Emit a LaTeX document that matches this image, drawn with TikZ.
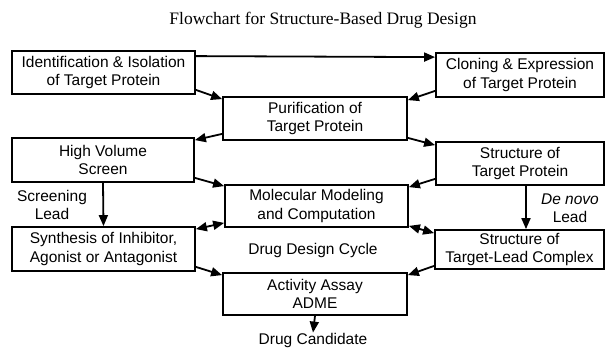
\documentclass[tikz,border=0pt]{standalone}
\usepackage{fontspec}
\setmainfont{Liberation Sans}
\newfontfamily\titlefont{Liberation Serif}
\usetikzlibrary{arrows.meta}
\begin{document}
\begin{tikzpicture}[x=1pt,y=-1pt,
  box/.style={draw, line width=1.8pt, align=center, inner sep=0pt,
    font=\fontsize{15.5}{18.5}\selectfont},
  lbl/.style={align=center, inner sep=0pt, font=\fontsize{15.5}{17.5}\selectfont},
  arr/.style={line width=1.8pt, -{Triangle[length=11pt,width=9pt]}},
  darr/.style={line width=1.8pt, {Triangle[length=11pt,width=9pt]}-{Triangle[length=11pt,width=9pt]}}]
\useasboundingbox (0,0) rectangle (614,349);
\node[inner sep=0pt, font=\titlefont\fontsize{17.5}{20}\selectfont] (title) at (323,20) {Flowchart for Structure-Based Drug Design};

\node[box, minimum width=183pt, minimum height=43pt] (id) at (103.5,72.5) {Identification \& Isolation\\of Target Protein};
\node[box, minimum width=168pt, minimum height=44pt] (cl) at (520,75) {Cloning \& Expression\\of Target Protein};
\node[box, minimum width=184pt, minimum height=43pt] (pur) at (315,118.5) {Purification of\\Target Protein};
\node[box, minimum width=182pt, minimum height=44pt] (hvs) at (103,160) {High Volume\\Screen};
\node[box, minimum width=168pt, minimum height=43pt] (stp) at (520,163.5) {Structure of\\Target Protein};
\node[box, minimum width=183pt, minimum height=42pt] (mmc) at (316.5,206) {Molecular Modeling\\and Computation};
\node[box, minimum width=183pt, minimum height=44pt] (syn) at (103.5,249) {Synthesis of Inhibitor,\\Agonist or Antagonist};
\node[box, minimum width=169pt, minimum height=39pt] (tlc) at (519.5,249.5) {Structure of\\Target-Lead Complex};
\node[box, minimum width=184pt, minimum height=42pt] (act) at (315,294) {Activity Assay\\ADME};

\node[lbl] (cyc) at (313,250) {Drug Design Cycle};
\node[lbl] (dc) at (313,340) {Drug Candidate};
\node[lbl] (scr) at (52,205) {Screening\\Lead};
\node[lbl] (dn) at (570,208) {\textit{De novo}\\Lead};

\draw[arr] ([yshift=-6pt]id.north east) -- ([yshift=-5pt]cl.north west);
\draw[arr] ([yshift=5pt]id.south east) -- ([yshift=-3pt]pur.north west);
\draw[arr] ([yshift=7pt]cl.south west) -- ([yshift=-4pt]pur.north east);
\draw[arr] ([yshift=7pt]pur.south west) -- ([yshift=-3pt]hvs.north east);
\draw[arr] ([yshift=3pt]pur.south east) -- ([yshift=-4pt]stp.north west);
\draw[arr] ([yshift=5pt]hvs.south east) -- ([yshift=-2pt]mmc.north west);
\draw[arr] ([yshift=7pt]stp.south west) -- ([yshift=-3pt]mmc.north east);
\draw[arr] (hvs.south) -- (syn.north);
\draw[arr] ([xshift=6pt]stp.south) -- ([xshift=6.5pt]tlc.north);
\draw[darr] ([yshift=-3pt]syn.north east) -- ([yshift=5pt]mmc.south west);
\draw[darr] ([yshift=2pt]mmc.south east) -- ([yshift=-4pt]tlc.north west);
\draw[arr] ([yshift=5pt]syn.south east) -- ([yshift=-3pt]act.north west);
\draw[arr] ([yshift=4pt]tlc.south west) -- ([yshift=-3pt]act.north east);
\draw[arr] (act.south) -- (dc.north);
\end{tikzpicture}
\end{document}
